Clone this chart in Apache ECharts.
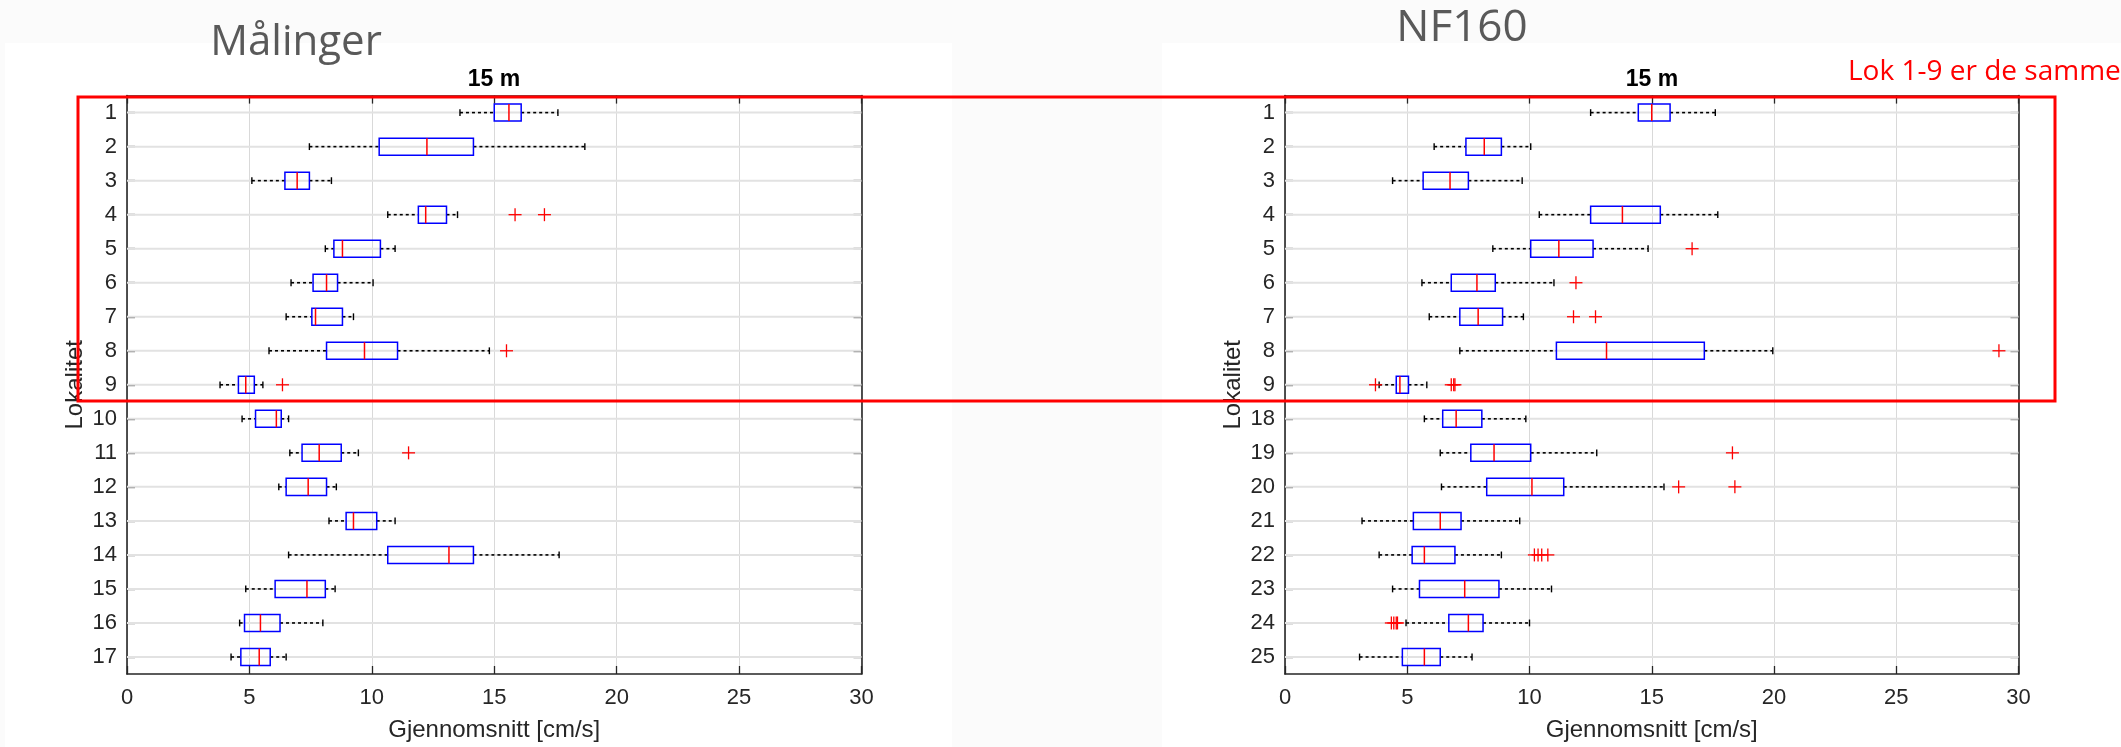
<!DOCTYPE html>
<html>
<head>
<meta charset="utf-8">
<script src="https://cdn.jsdelivr.net/npm/echarts@6/dist/echarts.min.js"></script>
<style>
html,body{margin:0;padding:0;background:#fbfbfb;}
#chart{width:2121px;height:747px;}
</style>
</head>
<body>
<div id="chart"></div>
<script>
// ---------- DATA ----------
const xTicks = [0, 5, 10, 15, 20, 25, 30];

const leftCategories = ['1','2','3','4','5','6','7','8','9','10','11','12','13','14','15','16','17'];
const leftLow    = [13.6, 7.45, 5.1, 10.65, 8.1, 6.7, 6.5, 5.8, 3.8, 4.7, 6.65, 6.2, 8.25, 6.6, 4.85, 4.6, 4.25];
const leftQ1     = [15.0, 10.3, 6.45, 11.9, 8.45, 7.6, 7.55, 8.15, 4.55, 5.25, 7.15, 6.5, 8.95, 10.65, 6.05, 4.8, 4.65];
const leftMedian = [15.6, 12.25, 6.95, 12.2, 8.8, 8.15, 7.7, 9.7, 4.85, 6.1, 7.85, 7.4, 9.25, 13.15, 7.35, 5.45, 5.4];
const leftQ3     = [16.1, 14.15, 7.45, 13.05, 10.35, 8.6, 8.8, 11.05, 5.2, 6.3, 8.75, 8.15, 10.2, 14.15, 8.1, 6.25, 5.85];
const leftHigh   = [17.6, 18.7, 8.35, 13.5, 10.95, 10.05, 9.25, 14.8, 5.55, 6.6, 9.45, 8.55, 10.95, 17.65, 8.5, 8.0, 6.5];
// outliers: [category label, value]
const leftOutliers = [['4', 15.85], ['4', 17.05], ['8', 15.5], ['9', 6.35], ['11', 11.5]];

const rightCategories = ['1','2','3','4','5','6','7','8','9','18','19','20','21','22','23','24','25'];
const rightLow    = [12.5, 6.1, 4.4, 10.4, 8.5, 5.6, 5.9, 7.15, 3.85, 5.7, 6.35, 6.4, 3.15, 3.85, 4.4, 4.95, 3.05];
const rightQ1     = [14.45, 7.4, 5.65, 12.5, 10.05, 6.8, 7.15, 11.1, 4.55, 6.45, 7.6, 8.25, 5.25, 5.2, 5.5, 6.7, 4.8];
const rightMedian = [15.0, 8.15, 6.75, 13.8, 11.2, 7.85, 7.9, 13.15, 4.7, 7.0, 8.55, 10.1, 6.35, 5.7, 7.35, 7.5, 5.7];
const rightQ3     = [15.75, 8.85, 7.5, 15.35, 12.6, 8.6, 8.9, 17.15, 5.05, 8.05, 10.05, 11.4, 7.2, 6.95, 8.75, 8.1, 6.35];
const rightHigh   = [17.6, 10.05, 9.7, 17.7, 14.85, 11.0, 9.75, 19.95, 5.8, 9.85, 12.75, 15.5, 9.6, 8.85, 10.9, 10.0, 7.65];
const rightOutliers = [
  ['5', 16.65], ['6', 11.9], ['7', 11.8], ['7', 12.7], ['8', 29.2],
  ['9', 3.7], ['9', 6.8], ['9', 6.9], ['9', 6.95],
  ['19', 18.3], ['20', 16.1], ['20', 18.4],
  ['22', 10.2], ['22', 10.35], ['22', 10.5], ['22', 10.75],
  ['24', 4.35], ['24', 4.45], ['24', 4.55], ['24', 4.6]
];

const panelTitleLeft = 'Målinger';
const panelTitleRight = 'NF160';
const plotTitle = '15 m';
const noteText = 'Lok 1-9 er de samme';
const xName = 'Gjennomsnitt [cm/s]';
const yName = 'Lokalitet';

// ---------- BUILD ----------
function boxData(cats, lo, q1, med, q3, hi) {
  return cats.map((c, i) => [i, lo[i], q1[i], med[i], q3[i], hi[i]]);
}
function outlierData(cats, outs) {
  return outs.map(o => [cats.indexOf(o[0]), o[1]]);
}

const AX = '#262626';
const FONT = '"Liberation Sans", Arial, Helvetica, sans-serif';
const SLIDE_FONT = '"Open Sans", "Noto Sans", sans-serif';

function renderBox(params, api) {
  const cat = api.value(0);
  const pLo = api.coord([api.value(1), cat]);
  const pQ1 = api.coord([api.value(2), cat]);
  const pMed = api.coord([api.value(3), cat]);
  const pQ3 = api.coord([api.value(4), cat]);
  const pHi = api.coord([api.value(5), cat]);
  const band = api.size([0, 1])[1];
  const h = band * 0.5;
  const capH = band * 0.2;
  const y = pMed[1];
  const cs = params.coordSys;
  const whisker = {stroke: '#000', lineWidth: 1.6, lineDash: [3, 3]};
  const capS = {stroke: '#000', lineWidth: 1.4};
  return {
    type: 'group',
    children: [
      {type: 'line', z2: 0, shape: {x1: cs.x, y1: y, x2: cs.x + cs.width, y2: y}, style: {stroke: '#e2e2e2', lineWidth: 2}},
      {type: 'line', z2: 1, shape: {x1: pLo[0], y1: y, x2: pQ1[0], y2: y}, style: whisker},
      {type: 'line', z2: 1, shape: {x1: pQ3[0], y1: y, x2: pHi[0], y2: y}, style: whisker},
      {type: 'line', z2: 1, shape: {x1: pLo[0], y1: y - capH / 2, x2: pLo[0], y2: y + capH / 2}, style: capS},
      {type: 'line', z2: 1, shape: {x1: pHi[0], y1: y - capH / 2, x2: pHi[0], y2: y + capH / 2}, style: capS},
      {type: 'rect', z2: 2, shape: {x: pQ1[0], y: y - h / 2, width: pQ3[0] - pQ1[0], height: h}, style: {fill: 'rgba(255,255,255,0)', stroke: '#0000ff', lineWidth: 1.5}},
      {type: 'line', z2: 3, shape: {x1: pMed[0], y1: y - h / 2, x2: pMed[0], y2: y + h / 2}, style: {stroke: '#ff0000', lineWidth: 1.5}}
    ]
  };
}

function renderOutlier(params, api) {
  const p = api.coord([api.value(1), api.value(0)]);
  const s = 6.5;
  return {
    type: 'group',
    children: [
      {type: 'line', shape: {x1: p[0] - s, y1: p[1], x2: p[0] + s, y2: p[1]}, style: {stroke: '#ff0000', lineWidth: 1.3}},
      {type: 'line', shape: {x1: p[0], y1: p[1] - s, x2: p[0], y2: p[1] + s}, style: {stroke: '#ff0000', lineWidth: 1.3}}
    ]
  };
}

function xAxisBottom(gridIndex) {
  return {
    type: 'value', gridIndex, position: 'bottom',
    min: xTicks[0], max: xTicks[xTicks.length - 1], interval: xTicks[1] - xTicks[0],
    name: xName, nameLocation: 'middle', nameGap: 44,
    nameTextStyle: {fontSize: 24, color: AX, fontFamily: FONT},
    axisLine: {show: true, onZero: false, lineStyle: {color: AX, width: 1.6}},
    axisTick: {show: true, inside: true, length: 8, lineStyle: {color: AX, width: 1.3}},
    axisLabel: {fontSize: 22, color: AX, fontFamily: FONT, margin: 13},
    splitLine: {show: true, lineStyle: {color: '#d9d9d9', width: 1}}
  };
}
function xAxisTop(gridIndex) {
  return {
    type: 'value', gridIndex, position: 'top',
    min: xTicks[0], max: xTicks[xTicks.length - 1], interval: xTicks[1] - xTicks[0],
    axisLine: {show: true, onZero: false, lineStyle: {color: AX, width: 1.6}},
    axisTick: {show: true, inside: true, length: 8, lineStyle: {color: AX, width: 1.3}},
    axisLabel: {show: false},
    splitLine: {show: false}
  };
}
function yAxisLeft(gridIndex, cats) {
  return {
    type: 'category', gridIndex, position: 'left', inverse: true, data: cats,
    name: yName, nameLocation: 'middle', nameGap: 40,
    nameTextStyle: {fontSize: 24, color: AX, fontFamily: FONT},
    axisLine: {show: true, onZero: false, lineStyle: {color: AX, width: 1.6}},
    axisTick: {show: true, inside: true, alignWithLabel: true, length: 8, lineStyle: {color: AX, width: 1.3}},
    axisLabel: {fontSize: 22, color: AX, fontFamily: FONT, margin: 10},
    splitLine: {show: false}
  };
}
function yAxisRight(gridIndex, cats) {
  return {
    type: 'category', gridIndex, position: 'right', inverse: true, data: cats,
    axisLine: {show: true, onZero: false, lineStyle: {color: AX, width: 1.6}},
    axisTick: {show: true, inside: true, alignWithLabel: true, length: 8, lineStyle: {color: AX, width: 1.3}},
    axisLabel: {show: false},
    splitLine: {show: false}
  };
}

const chart = echarts.init(document.getElementById('chart'), null, {renderer: 'canvas'});

const option = {
  backgroundColor: '#fbfbfb',
  animation: false,
  textStyle: {fontFamily: FONT},
  grid: [
    {left: 127, top: 95.6, width: 734.5, height: 580.4},
    {left: 1285, top: 95.6, width: 733.5, height: 580.4}
  ],
  xAxis: [xAxisBottom(0), xAxisTop(0), xAxisBottom(1), xAxisTop(1)],
  yAxis: [yAxisLeft(0, leftCategories), yAxisRight(0, leftCategories), yAxisLeft(1, rightCategories), yAxisRight(1, rightCategories)],
  series: [
    {type: 'custom', name: 'box-left', xAxisIndex: 0, yAxisIndex: 0, renderItem: renderBox,
     encode: {x: [1, 2, 3, 4, 5], y: 0}, data: boxData(leftCategories, leftLow, leftQ1, leftMedian, leftQ3, leftHigh)},
    {type: 'custom', name: 'out-left', xAxisIndex: 0, yAxisIndex: 0, renderItem: renderOutlier, z: 3,
     encode: {x: 1, y: 0}, data: outlierData(leftCategories, leftOutliers)},
    {type: 'custom', name: 'box-right', xAxisIndex: 2, yAxisIndex: 2, renderItem: renderBox,
     encode: {x: [1, 2, 3, 4, 5], y: 0}, data: boxData(rightCategories, rightLow, rightQ1, rightMedian, rightQ3, rightHigh)},
    {type: 'custom', name: 'out-right', xAxisIndex: 2, yAxisIndex: 2, renderItem: renderOutlier, z: 3,
     encode: {x: 1, y: 0}, data: outlierData(rightCategories, rightOutliers)}
  ],
  graphic: [
    {type: 'rect', z: -100, silent: true, shape: {x: 5, y: 43, width: 947, height: 704}, style: {fill: '#ffffff'}},
    {type: 'rect', z: -100, silent: true, shape: {x: 1162, y: 43, width: 959, height: 704}, style: {fill: '#ffffff'}},
    {type: 'text', z: 100, x: 296, y: 43, style: {text: panelTitleLeft, fontSize: 42, fontFamily: SLIDE_FONT, fill: '#595959', align: 'center', verticalAlign: 'middle'}},
    {type: 'text', z: 100, x: 1462, y: 28, style: {text: panelTitleRight, fontSize: 44, fontFamily: SLIDE_FONT, fill: '#595959', align: 'center', verticalAlign: 'middle'}},
    {type: 'text', z: 100, x: 494, y: 80, style: {text: plotTitle, fontSize: 23, fontWeight: 'bold', fontFamily: FONT, fill: '#000', align: 'center', verticalAlign: 'middle'}},
    {type: 'text', z: 100, x: 1652, y: 80, style: {text: plotTitle, fontSize: 23, fontWeight: 'bold', fontFamily: FONT, fill: '#000', align: 'center', verticalAlign: 'middle'}},
    {type: 'text', z: 100, x: 1848, y: 72, style: {text: noteText, fontSize: 28, fontFamily: SLIDE_FONT, fill: '#ff0000', align: 'left', verticalAlign: 'middle'}},
    {type: 'rect', z: 100, silent: true, shape: {x: 78, y: 97, width: 1977, height: 304}, style: {fill: 'none', stroke: '#ff0000', lineWidth: 3}}
  ]
};
chart.setOption(option);
</script>
</body>
</html>
